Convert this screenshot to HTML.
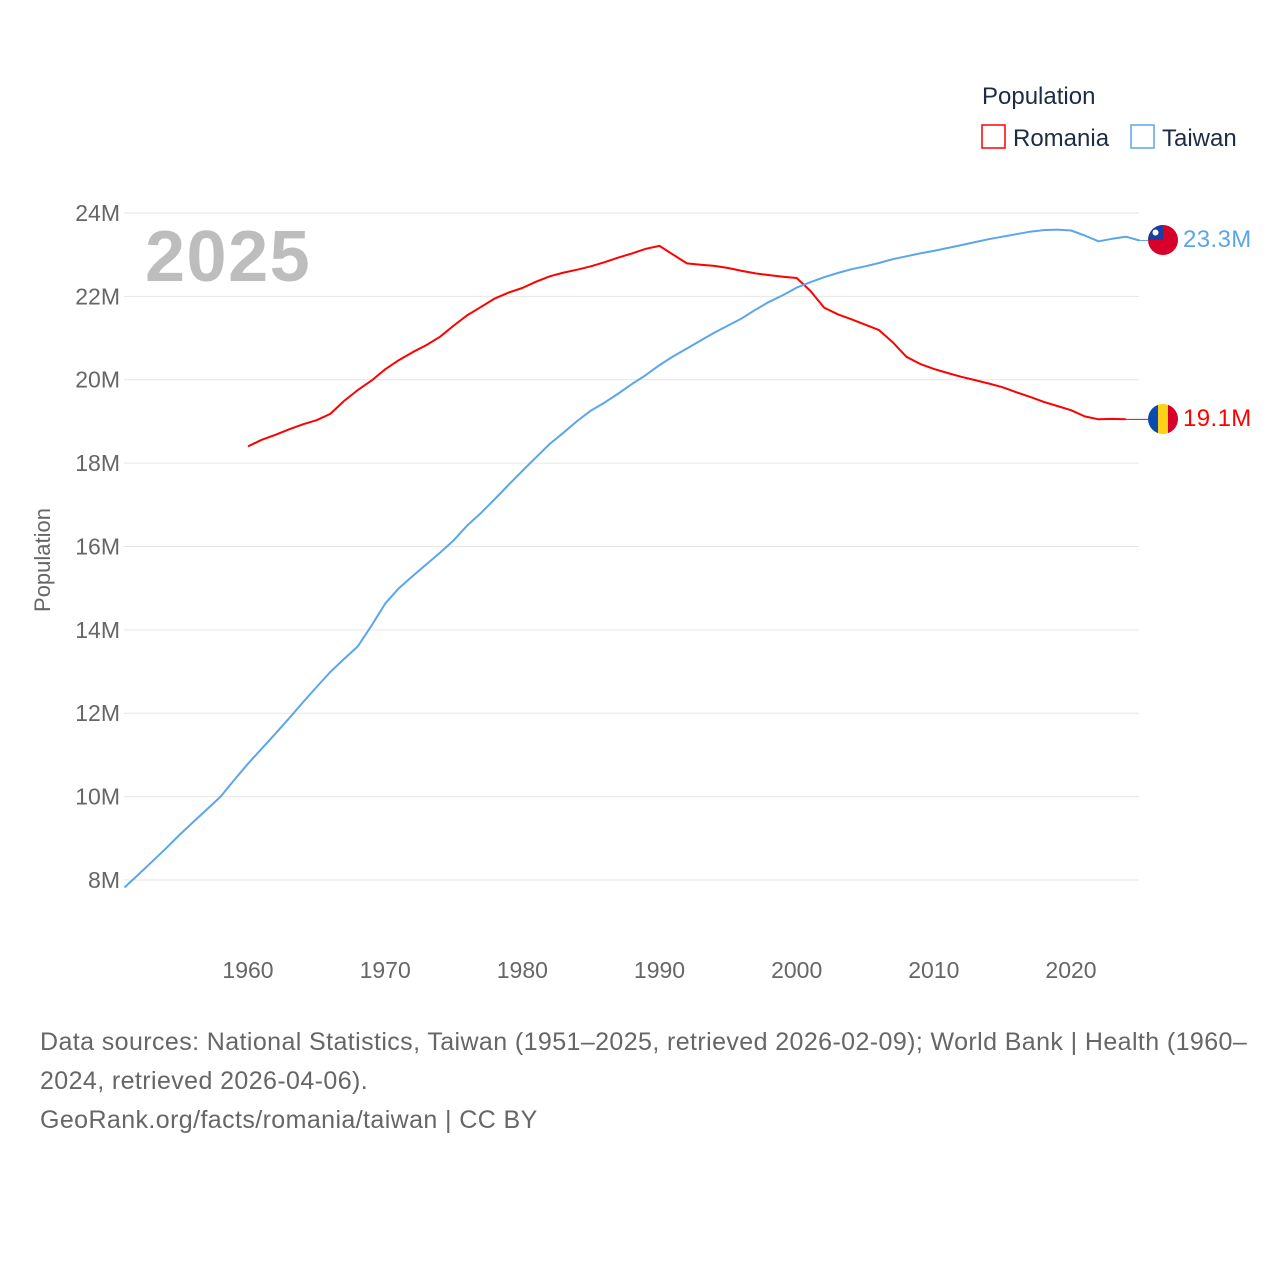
<!DOCTYPE html>
<html><head><meta charset="utf-8"><style>
body{margin:0;background:#fff;font-family:"Liberation Sans",sans-serif}
</style></head><body>
<svg id="chart" width="1280" height="1280" viewBox="0 0 1280 1280" xmlns="http://www.w3.org/2000/svg" font-family="Liberation Sans, sans-serif">
<rect width="1280" height="1280" fill="#fff"/>
<g id="grid"></g>
<g id="yticks"></g>
<g id="xticks"></g>
<text x="145" y="281" font-size="72" font-weight="bold" fill="#bdbdbd" letter-spacing="1.5">2025</text>
<text transform="translate(50,560) rotate(-90)" text-anchor="middle" font-size="22" fill="#666">Population</text>
<g id="series"></g>
<g>
<text x="982" y="104" font-size="24" fill="#1d2b45">Population</text>
<rect x="982" y="125" width="23" height="23" fill="none" stroke="#f00" stroke-width="1.5"/>
<text x="1013" y="146" font-size="24" fill="#1d2b45">Romania</text>
<rect x="1131" y="125" width="23" height="23" fill="none" stroke="#5ba6ea" stroke-width="1.5"/>
<text x="1162" y="146" font-size="24" fill="#1d2b45">Taiwan</text>
</g>
<g font-size="25" fill="#666" letter-spacing="0.4">
<text x="40" y="1050">Data sources: National Statistics, Taiwan (1951–2025, retrieved 2026-02-09); World Bank | Health (1960–</text>
<text x="40" y="1089">2024, retrieved 2026-04-06).</text>
<text x="40" y="1128">GeoRank.org/facts/romania/taiwan | CC BY</text>
</g>
<defs>
<clipPath id="c1"><circle cx="1163" cy="240" r="15"/></clipPath>
<clipPath id="c2"><circle cx="1163" cy="419" r="15"/></clipPath>
</defs>
<g clip-path="url(#c1)">
<rect x="1148" y="225" width="30" height="30" fill="#d7002a"/>
<rect x="1148" y="225" width="15" height="15" fill="#1a3fa0"/>
<circle cx="1155.5" cy="232.5" r="3" fill="#fff"/>
</g>
<g clip-path="url(#c2)">
<rect x="1148" y="404" width="10" height="30" fill="#0a4bb0"/>
<rect x="1158" y="404" width="10" height="30" fill="#fcd116"/>
<rect x="1168" y="404" width="10" height="30" fill="#d7002a"/>
</g>
<text x="1183" y="247" font-size="24" fill="#5ba6ea" letter-spacing="0.4">23.3M</text>
<text x="1183" y="426" font-size="24" fill="#f00" letter-spacing="0.4">19.1M</text>
</svg>
<script>
const twYears=[1951,1952,1953,1954,1955,1956,1957,1958,1959,1960,1961,1962,1963,1964,1965,1966,1967,1968,1969,1970,1971,1972,1973,1974,1975,1976,1977,1978,1979,1980,1981,1982,1983,1984,1985,1986,1987,1988,1989,1990,1991,1992,1993,1994,1995,1996,1997,1998,1999,2000,2001,2002,2003,2004,2005,2006,2007,2008,2009,2010,2011,2012,2013,2014,2015,2016,2017,2018,2019,2020,2021,2022,2023,2024,2025];
const twValues=[7.82,8.13,8.44,8.75,9.08,9.39,9.69,10.0,10.4,10.79,11.15,11.51,11.88,12.26,12.63,12.99,13.30,13.6,14.1,14.63,15.0,15.29,15.57,15.85,16.15,16.51,16.81,17.14,17.48,17.81,18.14,18.46,18.73,19.01,19.26,19.45,19.67,19.90,20.11,20.35,20.56,20.75,20.94,21.13,21.30,21.47,21.68,21.87,22.03,22.21,22.34,22.46,22.56,22.65,22.72,22.80,22.89,22.96,23.03,23.09,23.16,23.23,23.30,23.37,23.43,23.49,23.55,23.59,23.60,23.58,23.46,23.32,23.38,23.43,23.34];
const roYears=[1960,1961,1962,1963,1964,1965,1966,1967,1968,1969,1970,1971,1972,1973,1974,1975,1976,1977,1978,1979,1980,1981,1982,1983,1984,1985,1986,1987,1988,1989,1990,1991,1992,1993,1994,1995,1996,1997,1998,1999,2000,2001,2002,2003,2004,2005,2006,2007,2008,2009,2010,2011,2012,2013,2014,2015,2016,2017,2018,2019,2020,2021,2022,2023,2024];
const roValues=[18.40,18.56,18.68,18.81,18.93,19.03,19.18,19.49,19.75,19.98,20.25,20.47,20.66,20.83,21.03,21.30,21.55,21.75,21.95,22.09,22.20,22.35,22.48,22.57,22.64,22.72,22.82,22.93,23.03,23.14,23.21,23.00,22.79,22.76,22.73,22.68,22.61,22.55,22.51,22.47,22.44,22.13,21.73,21.57,21.45,21.32,21.19,20.90,20.55,20.38,20.26,20.16,20.07,19.99,19.91,19.82,19.70,19.59,19.47,19.37,19.27,19.12,19.05,19.06,19.05];
const yTicks=[8,10,12,14,16,18,20,22,24];
const xTicks=[1960,1970,1980,1990,2000,2010,2020];
const NS="http://www.w3.org/2000/svg";
const X=y=>248+(y-1960)*13.717;
const Y=v=>880-(v-8)*41.69;
function mk(t,a,p){const e=document.createElementNS(NS,t);for(const k in a)e.setAttribute(k,a[k]);p.appendChild(e);return e;}
const grid=document.getElementById('grid'),yt=document.getElementById('yticks'),xt=document.getElementById('xticks'),ser=document.getElementById('series');
yTicks.forEach(v=>{
 const l=mk('line',{x1:124,x2:1139,y1:Y(v),y2:Y(v),stroke:'#e6e6e6','stroke-width':1},grid);
 
 
 const t=mk('text',{x:120,y:Y(v)+8,'text-anchor':'end','font-size':23,fill:'#666'},yt);
 t.textContent=v+'M';
 
 
});
xTicks.forEach(v=>{
 const t=mk('text',{x:X(v),y:978,'text-anchor':'middle','font-size':23,fill:'#666'},xt);
 t.textContent=v;
 
 
});
function line(ys,vs,col,name){
 const d=ys.map((y,i)=>(i?'L':'M')+X(y).toFixed(1)+','+Y(vs[i]).toFixed(1)).join('');
 const p=mk('path',{d:d,fill:'none',stroke:col,'stroke-width':2,'stroke-linejoin':'round'},ser);
 
 
 const lx=X(ys[ys.length-1]),ly=Y(vs[vs.length-1]);
 const c=mk('line',{x1:lx,y1:ly,x2:1148,y2:ly,stroke:col,'stroke-width':1},ser);
 
 
}
line(roYears,roValues,'#f00','romania-line');
line(twYears,twValues,'#5ba6ea','taiwan-line');
</script>
</body></html>
